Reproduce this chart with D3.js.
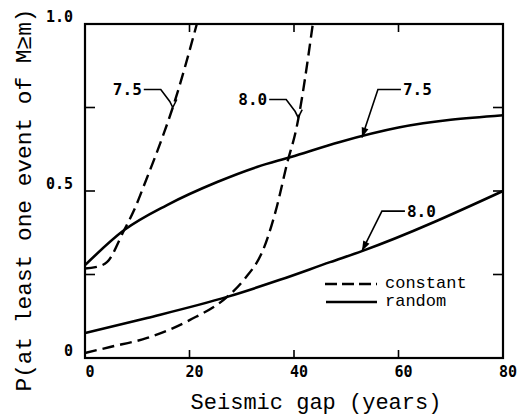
<!DOCTYPE html>
<html>
<head>
<meta charset="utf-8">
<script src="https://cdn.jsdelivr.net/npm/d3@7"></script>
<style>
    body { margin: 0; background: #fff; }
    svg { display: block; }
</style>
</head>
<body>
<div id="chart"></div>
<script>
// values: [gap in years, probability]
const constant75 = [[0, 0.268], [2, 0.272], [4.2, 0.287], [7.5, 0.383], [9.4, 0.443], [11.7, 0.533],
    [15.1, 0.673], [16.8, 0.75], [21.4, 1.0]];
const constant80 = [[0, 0.015], [4.8, 0.033], [11.9, 0.06], [20.1, 0.114], [27.2, 0.183], [30.4, 0.234],
    [34.3, 0.332], [36.7, 0.452], [38.7, 0.584], [40.4, 0.683], [43.6, 1.0]];
const random75 = [[0, 0.278], [7.5, 0.383], [15.7, 0.458], [25.3, 0.527], [32.9, 0.572], [39.4, 0.602],
    [48.8, 0.647], [60, 0.69], [80, 0.727]];
const random80 = [[0, 0.075], [11.9, 0.12], [27.2, 0.183], [37.3, 0.234], [46.9, 0.287], [53, 0.32], [80, 0.5]];

const xTicks = [0, 20, 40, 60, 80];
const yTickLabels = [0, 0.5, 1.0];
const yMinorTicks = [0.25, 0.5, 0.75];
const xInnerTicks = [20, 40, 60];

const width = 523,
    height = 416,
    margin = {top: 24, right: 20, bottom: 58, left: 85};

const mono = "'Liberation Mono', 'DejaVu Sans Mono', monospace";
const boldMono = "'DejaVu Sans Mono', monospace";

const svg = d3.select('#chart').append('svg')
    .attr('width', width)
    .attr('height', height);

const xScale = d3.scaleLinear()
    .domain([0, 80])
    .range([margin.left, width - margin.right]);

const yScale = d3.scaleLinear()
    .domain([0, 1])
    .range([height - margin.bottom, margin.top]);

const x0 = xScale(0), x1 = xScale(80), y0 = yScale(0), y1 = yScale(1);

// inward ticks on all sides
const ticks = svg.append('g').attr('stroke', '#000').attr('stroke-width', 1.6);
xInnerTicks.forEach(v => {
    ticks.append('line').attr('x1', xScale(v)).attr('x2', xScale(v)).attr('y1', y0).attr('y2', y0 - 8);
    ticks.append('line').attr('x1', xScale(v)).attr('x2', xScale(v)).attr('y1', y1).attr('y2', y1 + 8);
});
yMinorTicks.forEach(v => {
    ticks.append('line').attr('x1', x0).attr('x2', x0 + 10).attr('y1', yScale(v)).attr('y2', yScale(v));
    ticks.append('line').attr('x1', x1).attr('x2', x1 - 10).attr('y1', yScale(v)).attr('y2', yScale(v));
});

// frame
svg.append('rect')
    .attr('x', x0).attr('y', y1)
    .attr('width', x1 - x0).attr('height', y0 - y1)
    .attr('fill', 'none')
    .attr('stroke', '#000')
    .attr('stroke-width', 2.2);

// tick labels
svg.append('g')
    .selectAll('text')
    .data(xTicks)
    .enter()
    .append('text')
    .attr('x', d => xScale(d) + 5)
    .attr('y', y0 + 19)
    .attr('text-anchor', 'middle')
    .style('font-family', boldMono)
    .style('font-weight', 'bold')
    .style('font-size', '15px')
    .text(d => d);

svg.append('g')
    .selectAll('text')
    .data(yTickLabels)
    .enter()
    .append('text')
    .attr('x', x0 - 12)
    .attr('y', d => yScale(d) - 2)
    .attr('text-anchor', 'end')
    .style('font-family', boldMono)
    .style('font-weight', 'bold')
    .style('font-size', '15px')
    .text(d => d === 0 ? '0' : d.toFixed(1));

// axis titles
svg.append('text')
    .attr('x', (x0 + x1) / 2 + 22)
    .attr('y', 409)
    .attr('text-anchor', 'middle')
    .style('font-family', mono)
    .style('font-size', '22px')
    .text('Seismic gap (years)');

svg.append('text')
    .attr('transform', 'translate(31,' + 200 + ') rotate(-90)')
    .attr('text-anchor', 'middle')
    .style('font-family', mono)
    .style('font-size', '22.8px')
    .text('P(at least one event of M\u2265m)');

// curves
const line = d3.line()
    .x(d => xScale(d[0]))
    .y(d => yScale(d[1]))
    .curve(d3.curveMonotoneX);

[constant75, constant80].forEach(s => {
    svg.append('path')
        .datum(s)
        .attr('fill', 'none')
        .attr('stroke', '#000')
        .attr('stroke-width', 2.4)
        .attr('stroke-dasharray', '12,6')
        .attr('d', line);
});

[random75, random80].forEach(s => {
    svg.append('path')
        .datum(s)
        .attr('fill', 'none')
        .attr('stroke', '#000')
        .attr('stroke-width', 2.6)
        .attr('d', line);
});

// labels with leaders
const labelStyle = sel => sel
    .style('font-family', boldMono)
    .style('font-weight', 'bold')
    .style('font-size', '16px')
    .attr('dominant-baseline', 'middle');

// dashed curve labels (Y-shaped leader)
[{t: 16.8, p: 0.75, label: '7.5'}, {t: 40.8, p: 0.72, label: '8.0'}].forEach(a => {
    const ax = xScale(a.t), ay = yScale(a.p);
    svg.append('path')
        .attr('d', `M${ax - 29},${ay - 18} H${ax - 12} L${ax - 3},${ay - 6} L${ax},${ay} M${ax + 4},${ay - 8} L${ax},${ay}`)
        .attr('fill', 'none')
        .attr('stroke', '#000')
        .attr('stroke-width', 1.6);
    svg.append('text')
        .attr('x', ax - 31)
        .attr('y', ay - 17)
        .attr('text-anchor', 'end')
        .call(labelStyle)
        .text(a.label);
});

// random curve labels (arrow leader)
[{t: 53, p: 0.66, dx: 16, dy: -48, label: '7.5'}, {t: 53, p: 0.32, dx: 20, dy: -40, label: '8.0'}].forEach(a => {
    const ax = xScale(a.t), ay = yScale(a.p);
    const kx = ax + a.dx, ky = ay + a.dy;
    svg.append('path')
        .attr('d', `M${kx + 23},${ky} H${kx} L${ax},${ay}`)
        .attr('fill', 'none')
        .attr('stroke', '#000')
        .attr('stroke-width', 1.6);
    // arrow head pointing at the curve
    const ang = Math.atan2(ay - ky, ax - kx);
    const len = 10, w = 3.5;
    const bx = ax - len * Math.cos(ang), by = ay - len * Math.sin(ang);
    svg.append('path')
        .attr('d', `M${ax},${ay} L${bx - w * Math.sin(ang)},${by + w * Math.cos(ang)} L${bx + w * Math.sin(ang)},${by - w * Math.cos(ang)} Z`)
        .attr('fill', '#000');
    svg.append('text')
        .attr('x', kx + 25)
        .attr('y', ky + 1)
        .call(labelStyle)
        .text(a.label);
});

// legend
const legend = svg.append('g').attr('transform', 'translate(325,284)');
legend.append('line')
    .attr('x1', 0).attr('x2', 52).attr('y1', 0).attr('y2', 0)
    .attr('stroke', '#000').attr('stroke-width', 2.4).attr('stroke-dasharray', '12,5');
legend.append('line')
    .attr('x1', 1).attr('x2', 52).attr('y1', 18).attr('y2', 18)
    .attr('stroke', '#000').attr('stroke-width', 2.6);
legend.append('text')
    .attr('x', 60).attr('y', 0)
    .attr('dominant-baseline', 'middle')
    .style('font-family', mono)
    .style('font-size', '17px')
    .text('constant');
legend.append('text')
    .attr('x', 60).attr('y', 18)
    .attr('dominant-baseline', 'middle')
    .style('font-family', mono)
    .style('font-size', '17px')
    .text('random');
</script>
</body>
</html>
